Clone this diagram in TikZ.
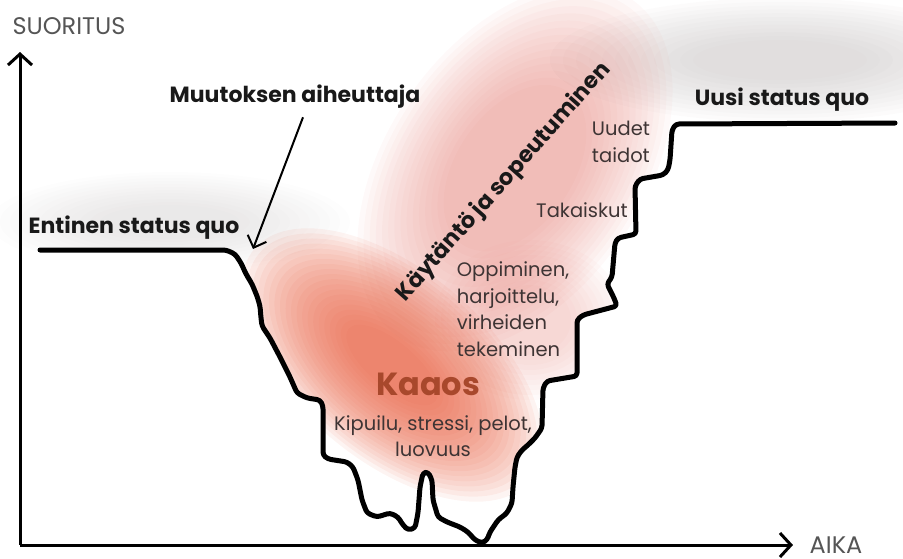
\documentclass[tikz,border=0pt]{standalone}
\usepackage{fontspec}
\setmainfont{Poppins}
\usepackage{xcolor}
\definecolor{chaosred}{RGB}{232,96,66}
\definecolor{adaptpink}{RGB}{225,110,100}
\definecolor{hazegray}{RGB}{190,185,185}
\definecolor{notegray}{RGB}{62,52,52}
\definecolor{axisgray}{RGB}{85,85,85}
\definecolor{kaaosbrown}{RGB}{168,72,44}
\usetikzlibrary{arrows.meta,calc}

%% the performance curve, in picture pixels (y grows downwards)
\newcommand{\valleypath}{(40,250) -- (226,250) -- (235,254) -- (241,263)
  -- (246,274) -- (252,284) -- (257,296) -- (260,306) -- (261,318)
  -- (262,326) -- (270,338) -- (280,357) -- (290,377) -- (297,393)
  -- (307,398) -- (320,400) -- (323,406) -- (323,455) -- (328,459)
  -- (347,462) -- (353,467) -- (358,480) -- (362,500) -- (367,513)
  -- (377,517) -- (390,513) -- (398,517) -- (403,525) -- (408,530)
  -- (415,528) -- (418,513) -- (420,487) -- (423,473) -- (428,472)
  -- (432,480) -- (433,500) -- (438,517) -- (447,522) -- (460,527)
  -- (468,532) -- (475,540) -- (482,543) -- (487,540) -- (490,532)
  -- (498,520) -- (507,513) -- (512,503) -- (513,487) -- (515,467)
  -- (517,457) -- (522,450) -- (528,445) -- (535,438) -- (542,428)
  -- (543,388) -- (547,381) -- (577,376) -- (577,320) -- (583,315)
  -- (617,306) -- (614,298) -- (607,284) -- (612,277) -- (615,243)
  -- (618,238) -- (636,234) -- (635,186) -- (640,179) -- (663,175)
  -- (668,170) -- (670,160) -- (672,130) -- (676,124) -- (895,123)}

\begin{document}
\begin{tikzpicture}[x=1pt,y=-1pt,
    curve/.style={line width=5pt,line join=round,line cap=round,rounded corners=3pt},
    axis/.style={line width=3pt,-{Straight Barb[length=11pt,width=24pt]}},
    pointer/.style={line width=2pt,-{Straight Barb[length=10pt,width=20pt]}},
    axislabel/.style={font=\fontsize{24}{28}\selectfont,text=axisgray,inner sep=0pt,anchor=base},
    statuslabel/.style={font=\fontsize{22}{26}\selectfont\bfseries,text=black!90},
    notelabel/.style={font=\fontsize{19.5}{26.5}\selectfont,text=notegray}]
  \useasboundingbox (0,0) rectangle (903,558);

  %% hazes, kept above the curve
  \begin{scope}
    \clip (0,250) -- \valleypath -- (903,123) -- (903,0) -- (0,0) -- cycle;
    \foreach \k in {0,...,11}
      \fill[hazegray,opacity=0.03] (170,222) ellipse [x radius={180-10*\k}, y radius={50-3*\k}];
    \foreach \k in {0,...,11}
      \fill[hazegray,opacity=0.05] (780,60) ellipse [x radius={230-13*\k}, y radius={62-3.8*\k}];
    %% Adaptation band
    \begin{scope}[shift={(515,168)},rotate=55]
      \foreach \k in {0,...,14}
        \fill[adaptpink,opacity=0.04] (0,0) ellipse [x radius={205-8*\k}, y radius={128-5*\k}];
    \end{scope}
    \foreach \k in {0,...,9}
      \fill[adaptpink,opacity=0.03] (530,320) ellipse [x radius={95-6*\k}, y radius={80-5*\k}];
    %% Chaos
    \begin{scope}[shift={(392,365)},rotate=-40]
      \foreach \k in {0,...,19}
        \fill[chaosred,opacity=0.07] (0,0) ellipse [x radius={180-6.5*\k}, y radius={95-3.8*\k}];
    \end{scope}
  \end{scope}

  %% Axes
  \coordinate (origin) at (20,545);
  \coordinate (ytip) at (20,52);
  \coordinate (xtip) at (793,545);
  \draw[axis] (origin) -- (ytip);
  \draw[axis] (origin) -- (xtip);
  \node[axislabel] (ylabel) at (69,34) {SUORITUS};
  \node[axislabel] (xlabel) at (836,553) {AIKA};

  %% Curve
  \draw[curve] \valleypath;

  %% Labels
  \node[statuslabel] (cause) at (295,97) {Muutoksen aiheuttaja};
  \coordinate (causetip) at (253,249);
  \draw[pointer] ([xshift=8pt,yshift=-5pt]cause.south) -- (causetip);
  \node[statuslabel] (oldquo) at (134,228) {Entinen status quo};
  \node[statuslabel] (newquo) at (782,100) {Uusi status quo};
  \node[statuslabel,font=\fontsize{22.5}{26}\selectfont\bfseries,rotate=48.5] (adapt)
        at (504,182) {Käytäntö ja sopeutuminen};
  \node[notelabel,align=left] (skills) at (621,142) {Uudet\\taidot};
  \node[notelabel] (setback) at (582,210) {Takaiskut};
  \node[notelabel,align=left] (learning) at (513,309)
        {Oppiminen,\\harjoittelu,\\virheiden\\tekeminen};
  \node[font=\fontsize{32}{36}\selectfont\bfseries,text=kaaosbrown] (chaos) at (428,384) {Kaaos};
  \node[notelabel,align=center] (feelings) at (433,436) {Kipuilu, stressi, pelot,\\luovuus};
\end{tikzpicture}
\end{document}
